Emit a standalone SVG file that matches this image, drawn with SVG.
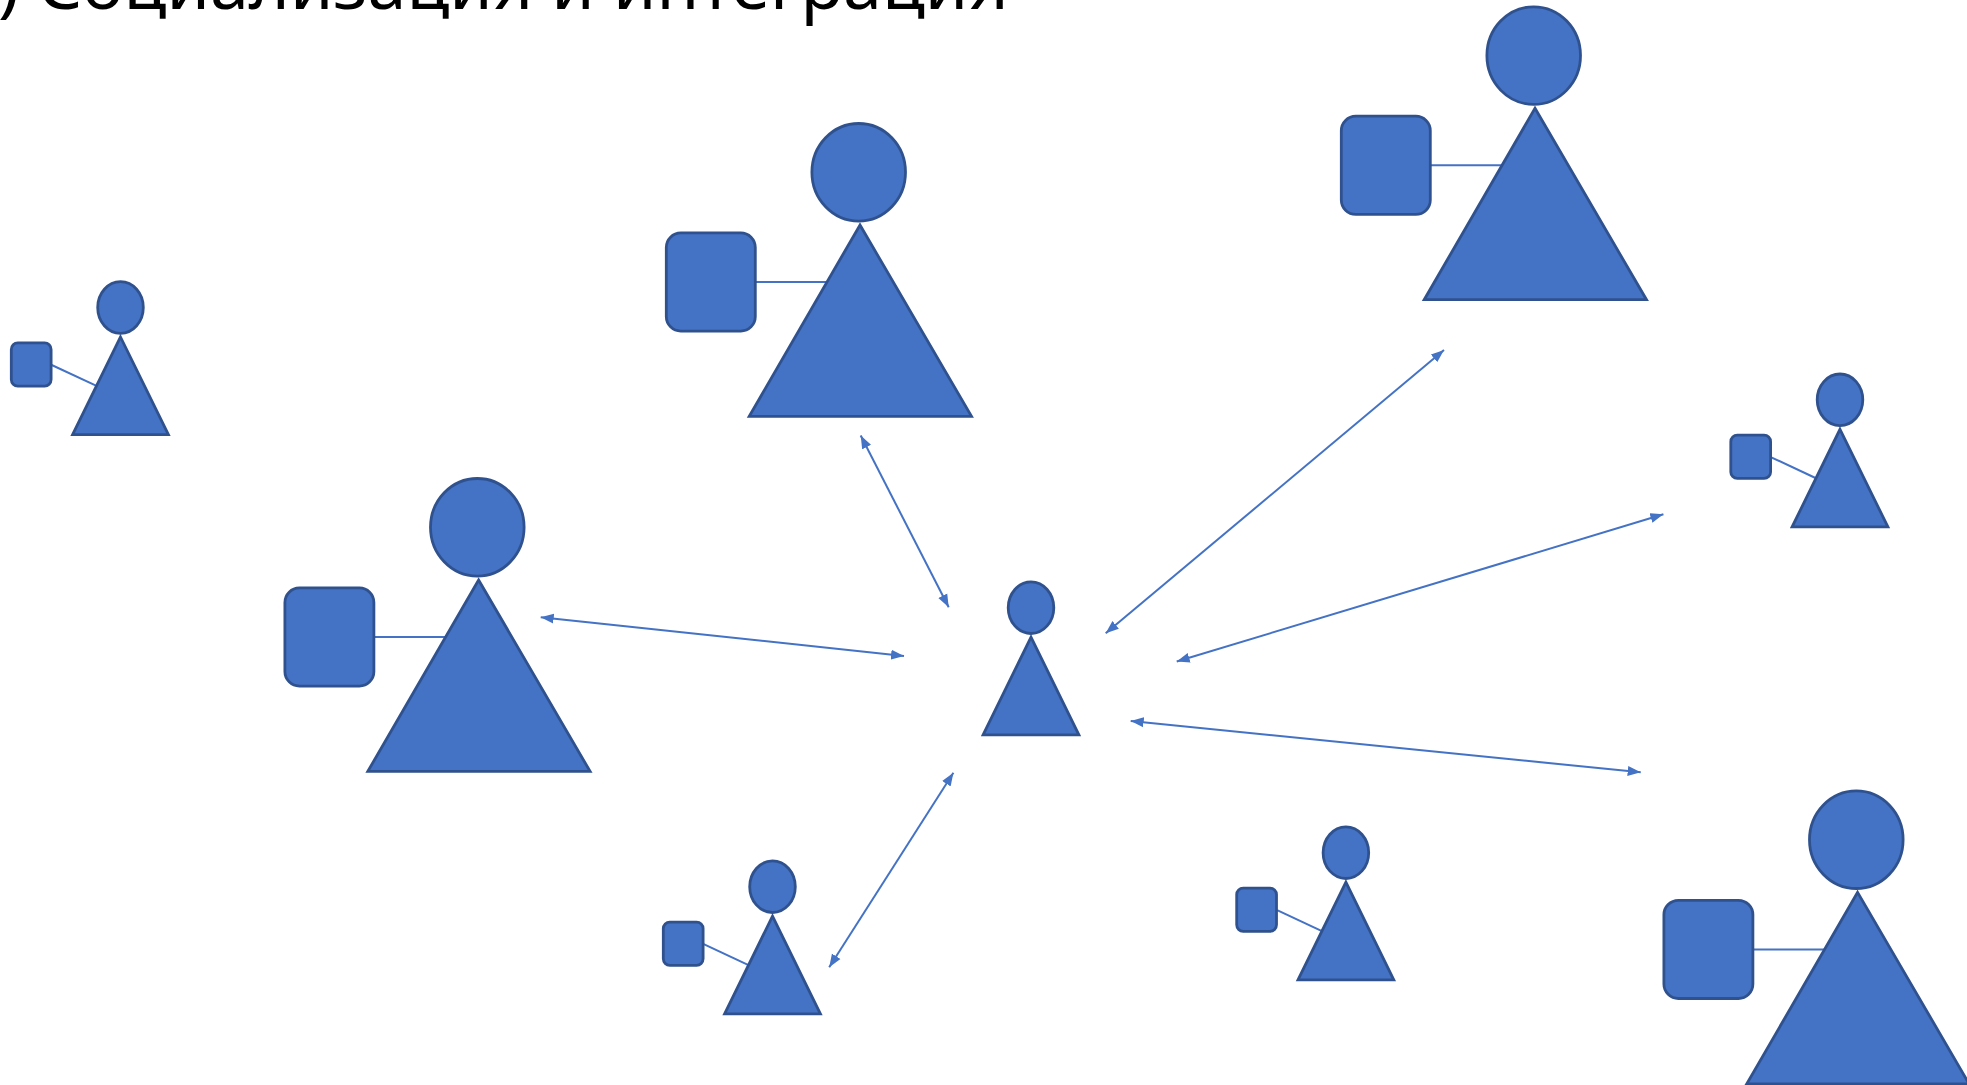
<svg xmlns="http://www.w3.org/2000/svg" width="1967" height="1085" viewBox="0 0 1967 1085">
<style>
.s{fill:#4472C4;stroke:#2F528F;stroke-width:2.8}
.l{stroke:#4472C4;stroke-width:2;fill:none}
.c{stroke:#4472C4;stroke-width:2;fill:none;marker-start:url(#h);marker-end:url(#h)}
text{font-family:"Noto Sans","Liberation Sans",Arial,sans-serif;font-size:70px;fill:#000}
</style>
<defs>
<marker id="h" markerUnits="userSpaceOnUse" markerWidth="14" markerHeight="11" refX="13" refY="5.5" orient="auto-start-reverse"><path d="M0 0.5L13 5.5L0 10.5Z" fill="#4472C4"/></marker>
<g id="big">
<line class="l" x1="756" y1="282" x2="828" y2="282"/>
<ellipse class="s" cx="858.7" cy="172.3" rx="46.8" ry="48.8"/>
<polygon class="s" points="860,225 971.5,416.4 749.2,416.4"/>
<rect class="s" x="666.3" y="232.9" width="89" height="98.2" rx="14.5"/>
</g>
<g id="tiny">
<ellipse class="s" cx="120.5" cy="307.5" rx="22.8" ry="25.8"/>
<polygon class="s" points="120.5,337 168.4,434.6 72.6,434.6"/>
</g>
<g id="small">
<line class="l" x1="51.7" y1="365" x2="96" y2="385.7"/>
<use href="#tiny"/>
<rect class="s" x="11.3" y="342.9" width="39.8" height="43.2" rx="6.5"/>
</g>
</defs>
<rect width="1967" height="1085" fill="#fff"/>
<text id="title" x="-2" y="9">) Социализация и интеграция</text>
<g id="connectors">
<line class="c" x1="540.7" y1="617.2" x2="904" y2="656"/>
<line class="c" x1="860.7" y1="435.5" x2="948.7" y2="607.3"/>
<line class="c" x1="1105.7" y1="633.3" x2="1444" y2="350"/>
<line class="c" x1="1176.7" y1="661.5" x2="1663.4" y2="514.3"/>
<line class="c" x1="1130.7" y1="721" x2="1640.7" y2="772.3"/>
<line class="c" x1="829.2" y1="967.2" x2="953.4" y2="772.8"/>
</g>
<g id="person-left-small"><use href="#small"/></g>
<g id="person-top-center"><use href="#big"/></g>
<g id="person-left-large"><use href="#big" x="-381.4" y="355"/></g>
<g id="person-top-right"><use href="#big" x="675" y="-116.7"/></g>
<g id="person-bottom-right"><use href="#big" x="997.6" y="667.4"/></g>
<g id="person-center"><use href="#tiny" x="910.5" y="300.2"/></g>
<g id="person-right-small"><use href="#small" x="1719.5" y="92.3"/></g>
<g id="person-bottom-small"><use href="#small" x="652" y="579.2"/></g>
<g id="person-bottom-mid-small"><use href="#small" x="1225.4" y="545.2"/></g>
</svg>
